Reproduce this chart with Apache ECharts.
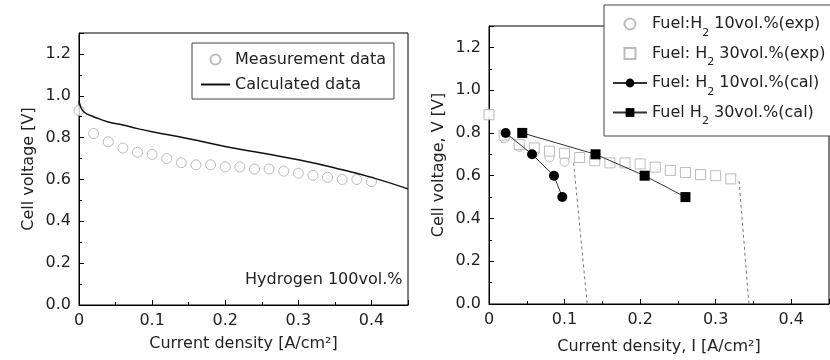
<!DOCTYPE html>
<html>
<head>
<meta charset="utf-8">
<script src="https://cdn.jsdelivr.net/npm/echarts@6/dist/echarts.min.js"></script>
<style>
  html, body { margin: 0; padding: 0; background: #fff; }
  #chart { width: 830px; height: 360px; }
</style>
</head>
<body>
<div id="chart"></div>
<script>
// left panel - hydrogen 100vol.%
var measX = [0, 0.02, 0.04, 0.06, 0.08, 0.10, 0.12, 0.14, 0.16, 0.18, 0.20, 0.22, 0.24, 0.26, 0.28, 0.30, 0.32, 0.34, 0.36, 0.38, 0.40];
var measY = [0.93, 0.82, 0.78, 0.75, 0.73, 0.72, 0.70, 0.68, 0.67, 0.67, 0.66, 0.66, 0.65, 0.65, 0.64, 0.63, 0.62, 0.61, 0.60, 0.60, 0.59];
var calcX = [0, 0.002, 0.005, 0.01, 0.02, 0.04, 0.06, 0.08, 0.10, 0.15, 0.20, 0.25, 0.30, 0.35, 0.40, 0.45];
var calcY = [0.975, 0.95, 0.93, 0.915, 0.90, 0.875, 0.86, 0.843, 0.828, 0.795, 0.758, 0.726, 0.694, 0.655, 0.61, 0.555];

// right panel - diluted hydrogen
var exp10X = [0, 0.02, 0.04, 0.06, 0.08, 0.10];
var exp10Y = [0.89, 0.775, 0.735, 0.71, 0.685, 0.665];
var exp30X = [0, 0.02, 0.04, 0.06, 0.08, 0.10, 0.12, 0.14, 0.16, 0.18, 0.20, 0.22, 0.24, 0.26, 0.28, 0.30, 0.32];
var exp30Y = [0.885, 0.79, 0.745, 0.73, 0.715, 0.705, 0.685, 0.67, 0.66, 0.66, 0.655, 0.64, 0.625, 0.615, 0.605, 0.60, 0.585];
var cal10X = [0.022, 0.057, 0.086, 0.097];
var cal10Y = [0.8, 0.7, 0.6, 0.5];
var cal30X = [0.044, 0.141, 0.206, 0.26];
var cal30Y = [0.8, 0.7, 0.6, 0.5];
// dashed drop-off lines
var drop10X = [0.112, 0.130];
var drop10Y = [0.66, 0];
var drop30X = [0.331, 0.344];
var drop30Y = [0.575, 0];

var seriesNames = ['Measurement data', 'Calculated data',
  'Fuel:H2 10vol.%(exp)', 'Fuel: H2 30vol.%(exp)', 'Fuel: H2 10vol.%(cal)', 'Fuel H2 30vol.%(cal)'];

function zip(xs, ys) {
  return xs.map(function (x, i) { return [x, ys[i]]; });
}

var FONT = 'DejaVu Sans';
var TXT = '#222';

function xAxis(gi, name, nameGap) {
  return {
    gridIndex: gi, type: 'value', min: 0, max: 0.45, interval: 0.1,
    name: name, nameLocation: 'middle', nameGap: nameGap,
    nameTextStyle: { fontFamily: FONT, fontSize: 16, color: TXT },
    axisLine: { lineStyle: { color: '#000', width: 1 } },
    axisTick: { inside: true, length: 5, lineStyle: { color: '#000' } },
    minorTick: { show: true, splitNumber: 2, length: 3, lineStyle: { color: '#000' } },
    splitLine: { show: false },
    axisLabel: {
      fontFamily: FONT, fontSize: 16, color: TXT, margin: 8, showMaxLabel: false,
      formatter: function (v) { return v === 0 ? '0' : v.toFixed(1); }
    }
  };
}
function yAxis(gi, name, nameGap) {
  return {
    gridIndex: gi, type: 'value', min: 0, max: 1.3, interval: 0.2,
    name: name, nameLocation: 'middle', nameGap: nameGap,
    nameTextStyle: { fontFamily: FONT, fontSize: 16, color: TXT },
    axisLine: { lineStyle: { color: '#000', width: 1 } },
    axisTick: { inside: true, length: 5, lineStyle: { color: '#000' } },
    minorTick: { show: true, splitNumber: 2, length: 3, lineStyle: { color: '#000' } },
    splitLine: { show: false },
    axisLabel: {
      fontFamily: FONT, fontSize: 16, color: TXT, margin: 8, showMaxLabel: false,
      formatter: function (v) { return v.toFixed(1); }
    }
  };
}

var openGrey = { color: '#fff', borderColor: '#aaa', borderWidth: 1 };

var option = {
  animation: false,
  backgroundColor: '#fff',
  grid: [
    { left: 79, top: 33, width: 329, height: 272, show: true, borderColor: '#000', borderWidth: 1 },
    { left: 489, top: 26, width: 340, height: 280, show: true, borderColor: '#000', borderWidth: 1 }
  ],
  xAxis: [
    xAxis(0, 'Current density [A/cm²]', 31),
    xAxis(1, 'Current density, I [A/cm²]', 35)
  ],
  yAxis: [
    yAxis(0, 'Cell voltage [V]', 42),
    yAxis(1, 'Cell voltage, V [V]', 42)
  ],
  legend: [
    {
      data: [
        { name: seriesNames[0], icon: 'circle' },
        { name: seriesNames[1], itemStyle: { opacity: 0 } }
      ],
      orient: 'vertical', left: 192, top: 43,
      padding: [7, 8, 5, 8], itemGap: 6, itemWidth: 29, itemHeight: 10,
      borderColor: '#444', borderWidth: 1, backgroundColor: '#fff',
      textStyle: { fontFamily: FONT, fontSize: 16, color: TXT, lineHeight: 19 }
    },
    {
      data: [
        { name: seriesNames[2], icon: 'circle' },
        { name: seriesNames[3], icon: 'path://M0,0H10V10H0Z' },
        { name: seriesNames[4] },
        { name: seriesNames[5] }
      ],
      orient: 'vertical', left: 604, top: 5,
      padding: [11, 8, 9, 8], itemGap: 7, itemWidth: 34, itemHeight: 11,
      borderColor: '#444', borderWidth: 1, backgroundColor: '#fff',
      formatter: function (n) { return n.replace('H2', 'H{sub|2}'); },
      textStyle: {
        fontFamily: FONT, fontSize: 16, color: TXT,
        rich: { sub: { fontFamily: FONT, fontSize: 11, color: TXT, padding: [18, 0, 0, 0] } }
      }
    }
  ],
  graphic: [
    { type: 'text', left: 245, top: 272,
      style: { text: 'Hydrogen 100vol.%', font: '16px "DejaVu Sans"', fill: TXT } }
  ],
  series: [
    { name: seriesNames[0], type: 'scatter', xAxisIndex: 0, yAxisIndex: 0,
      symbol: 'circle', symbolSize: 10, itemStyle: openGrey, data: zip(measX, measY) },
    { name: seriesNames[1], type: 'line', xAxisIndex: 0, yAxisIndex: 0, smooth: true,
      symbol: 'none', lineStyle: { color: '#111', width: 1.5 }, itemStyle: { color: '#111' },
      data: zip(calcX, calcY) },

    { type: 'line', xAxisIndex: 1, yAxisIndex: 1, symbol: 'none', silent: true,
      lineStyle: { color: '#777', width: 1, type: [3, 3] }, data: zip(drop10X, drop10Y) },
    { type: 'line', xAxisIndex: 1, yAxisIndex: 1, symbol: 'none', silent: true,
      lineStyle: { color: '#777', width: 1, type: [3, 3] }, data: zip(drop30X, drop30Y) },
    { name: seriesNames[2], type: 'scatter', xAxisIndex: 1, yAxisIndex: 1,
      symbol: 'circle', symbolSize: 9, itemStyle: openGrey, data: zip(exp10X, exp10Y) },
    { name: seriesNames[3], type: 'scatter', xAxisIndex: 1, yAxisIndex: 1,
      symbol: 'rect', symbolSize: 10, itemStyle: openGrey, data: zip(exp30X, exp30Y) },
    { name: seriesNames[4], type: 'line', xAxisIndex: 1, yAxisIndex: 1,
      symbol: 'circle', symbolSize: 10, showAllSymbol: true,
      lineStyle: { color: '#333', width: 1 }, itemStyle: { color: '#000' },
      data: zip(cal10X, cal10Y) },
    { name: seriesNames[5], type: 'line', xAxisIndex: 1, yAxisIndex: 1,
      symbol: 'rect', symbolSize: 10, showAllSymbol: true,
      lineStyle: { color: '#333', width: 1 }, itemStyle: { color: '#000' },
      data: zip(cal30X, cal30Y) }
  ]
};

var chart = echarts.init(document.getElementById('chart'));
chart.setOption(option);
</script>
</body>
</html>
